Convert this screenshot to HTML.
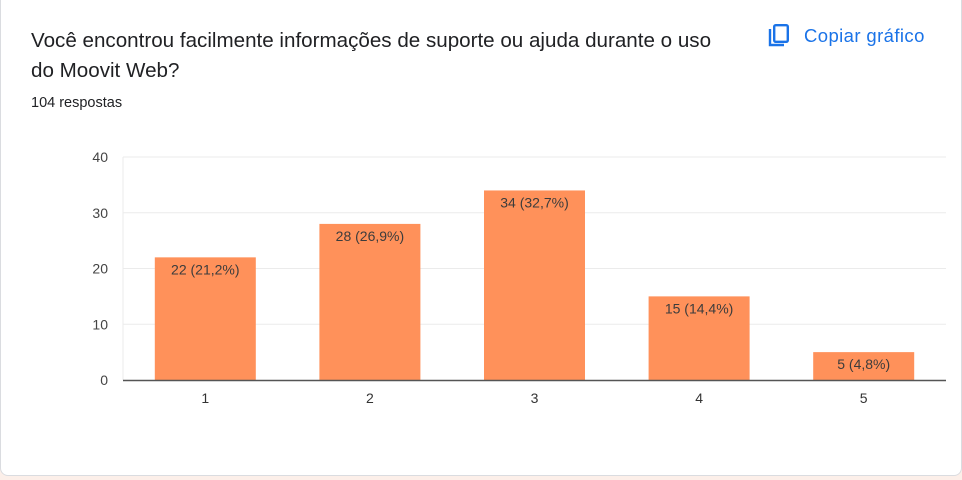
<!DOCTYPE html>
<html><head><meta charset="utf-8"><style>
body{margin:0;width:962px;height:480px;background:#fcefe9;font-family:"Liberation Sans",Arial,sans-serif;overflow:hidden;position:relative}
#card{position:absolute;left:0;top:-10px;width:960px;height:484px;background:#fff;border:1px solid #dadce0;border-radius:8px}
#title{position:absolute;left:31px;top:26px;width:690px;font-size:20.6px;line-height:30px;color:#202124}
#count{position:absolute;left:31px;top:95px;font-size:14.5px;color:#202124}
#copy{position:absolute;left:768px;top:24px;color:#1a73e8;font-size:18.5px;font-weight:500;display:flex;align-items:center;gap:14px;letter-spacing:0.4px}
svg{position:absolute;left:0;top:0}
</style></head><body>
<div id="card"></div>
<div id="title">Você encontrou facilmente informações de suporte ou ajuda durante o uso do Moovit Web?</div>
<div id="count">104 respostas</div>
<div id="copy"><svg style="position:static" width="22" height="24" viewBox="0 0 22 24"><path d="M2 5v16h14" fill="none" stroke="#1a73e8" stroke-width="2.4"/><rect x="6.2" y="1.2" width="13.6" height="16.6" rx="1.5" fill="none" stroke="#1a73e8" stroke-width="2.4"/></svg><span>Copiar gráfico</span></div>
<svg id="chart" width="962" height="480"></svg>
<script>
const categories=["1","2","3","4","5"];
const values=[22,28,34,15,5];
const labels=["22 (21,2%)","28 (26,9%)","34 (32,7%)","15 (14,4%)","5 (4,8%)"];
const yTicks=[0,10,20,30,40];
const svg=document.getElementById('chart');const NS='http://www.w3.org/2000/svg';
const x0=123,x1=946,y0=380,yTop=157,yMax=40;
const y=v=>y0-(v/yMax)*(y0-yTop);
const band=(x1-x0)/categories.length;
const xc=i=>x0+band*(i+0.5);
function mk(t,a){const e=document.createElementNS(NS,t);for(const k in a)e.setAttribute(k,a[k]);svg.appendChild(e);return e;}
yTicks.forEach(t=>{
 if(t>0){const l=mk('line',{x1:x0,x2:x1,y1:y(t),y2:y(t),stroke:'#ebebeb','stroke-width':1});
 
 }
 const tx=mk('text',{x:108,y:y(t)+5,'text-anchor':'end','font-size':14,fill:'#444'});tx.textContent=t;
 
 
});
const vl=mk('line',{x1:x0,x2:x0,y1:yTop,y2:y0,stroke:'#ebebeb'});


values.forEach((v,i)=>{
 const bw=101;
 const r=mk('rect',{x:xc(i)-bw/2,y:y(v),width:bw,height:y0-y(v),fill:'#ff915a'});
 
 
 const t=mk('text',{x:xc(i),y:y(v)+17,'text-anchor':'middle','font-size':14,fill:'#3c3c3c'});t.textContent=labels[i];
 
 
 const c=mk('text',{x:xc(i),y:403,'text-anchor':'middle','font-size':14,fill:'#333'});c.textContent=categories[i];
 
 
});
const ax=mk('line',{x1:x0,x2:x1,y1:y0+0.5,y2:y0+0.5,stroke:'#555','stroke-width':1.5});


</script>
</body></html>
